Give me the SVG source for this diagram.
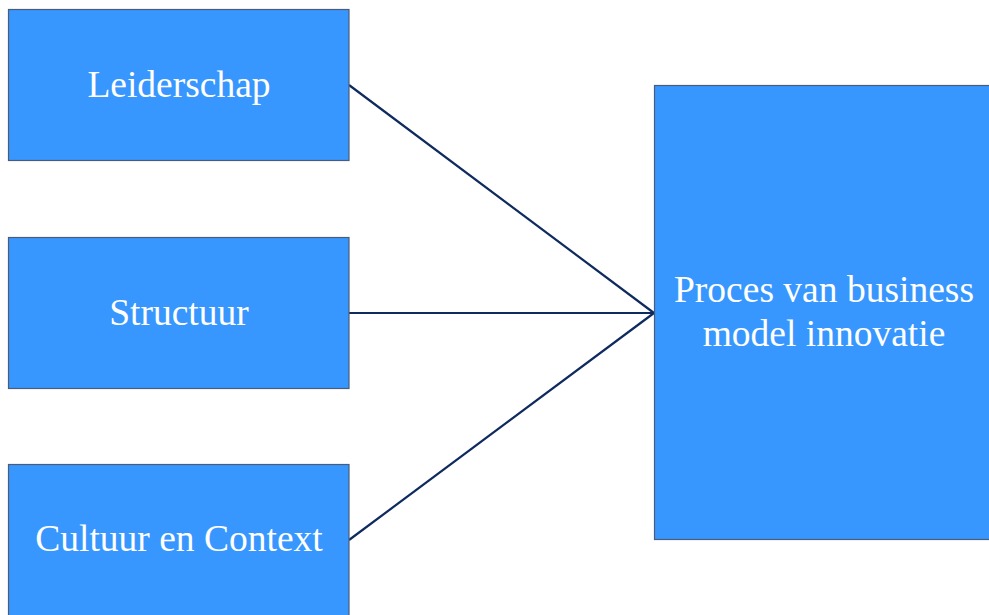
<svg xmlns="http://www.w3.org/2000/svg" width="989" height="615" viewBox="0 0 989 615">
  <style>
    .box { fill: #3797FF; stroke: #4A5C78; stroke-width: 1.2; }
    .label { fill: #FFFFFF; font-family: "Liberation Serif", "Times New Roman", serif; font-size: 37.5px; text-anchor: middle; }
    .link { stroke: #0E2A5E; stroke-width: 2.2; fill: none; }
  </style>
  <rect width="989" height="615" fill="#FFFFFF"/>
  <g id="connectors">
    <line class="link" x1="349" y1="85" x2="654" y2="313"/>
    <line class="link" x1="349" y1="313" x2="654" y2="313"/>
    <line class="link" x1="349" y1="540" x2="654" y2="313"/>
  </g>
  <g id="leiderschap">
    <rect class="box" x="8.5" y="9.5" width="340.5" height="151"/>
    <text class="label" x="179" y="97">Leiderschap</text>
  </g>
  <g id="structuur">
    <rect class="box" x="8.5" y="237.5" width="340.5" height="151"/>
    <text class="label" x="179" y="325">Structuur</text>
  </g>
  <g id="cultuur-en-context">
    <rect class="box" x="8.5" y="464.5" width="340.5" height="152"/>
    <text class="label" x="179" y="551">Cultuur en Context</text>
  </g>
  <g id="proces">
    <rect class="box" x="654.5" y="85.5" width="340" height="454"/>
    <text class="label" x="824" y="302">Proces van business</text>
    <text class="label" x="824" y="346">model innovatie</text>
  </g>
</svg>
